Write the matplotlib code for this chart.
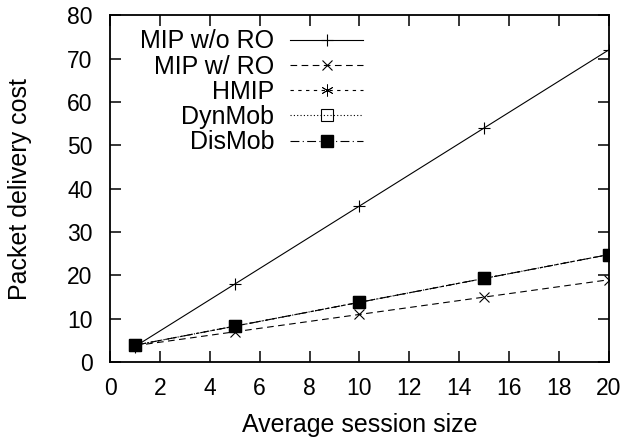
import matplotlib
matplotlib.use("Agg")
import matplotlib.pyplot as plt

plt.rcParams['font.family'] = ['Liberation Sans', 'DejaVu Sans']

x = [1, 5, 10, 15, 20]
mip_no_ro = [3.6, 18, 36, 54, 72]
mip_ro = [3.8, 7, 11, 15, 19]
hmip = [3.9, 8.3, 13.8, 19.3, 24.8]
dynmob = [3.9, 8.3, 13.8, 19.3, 24.8]
dismob = [3.9, 8.3, 13.8, 19.3, 24.8]

fig = plt.figure(figsize=(6.29, 4.46), dpi=100)
ax = fig.add_axes([0.175, 0.188, 0.793, 0.778])

lw = 0.8
ms = 8.6
ax.plot(x, mip_no_ro, color='black', lw=lw, ls='-', marker='+', ms=ms, mew=0.8, label='MIP w/o RO')
ax.plot(x, mip_ro, color='black', lw=lw, ls=(0, (6, 4)), marker='x', ms=ms * 0.9, mew=0.8, label='MIP w/ RO')
ax.plot(x, hmip, color='black', lw=lw, ls=(0, (3, 4)), marker=(6, 2, 0), ms=ms, mew=0.6, label='HMIP')
ax.plot(x, dynmob, color='black', lw=lw, ls=(0, (1, 2)), marker='s', ms=ms, mfc='none', mew=0.8, label='DynMob')
ax.plot(x, dismob, color='black', lw=lw, ls=(0, (8, 3, 1, 3)), marker='s', ms=ms, mfc='black', label='DisMob')

ax.set_xlim(0, 20)
ax.set_ylim(0, 80)
ax.set_xticks(range(0, 21, 2))
ax.set_yticks(range(0, 81, 10))
ax.tick_params(direction='in', top=True, right=True, length=8, width=1.1, labelsize=16.5)
ax.tick_params(axis='y', pad=12.5)
ax.tick_params(axis='x', pad=11)
for s in ax.spines.values():
    s.set_linewidth(1.3)

ax.set_xlabel('Average session size', fontsize=18, va='center')
ax.set_ylabel('Packet delivery cost', fontsize=18, va='center')
ax.xaxis.set_label_coords(0.5, -0.182)
ax.yaxis.set_label_coords(-0.18, 0.5)

ax.legend(loc='upper right', bbox_to_anchor=(0.515, 0.97), frameon=False, markerfirst=False,
          fontsize=18, handlelength=2.92, labelspacing=0.05, handletextpad=0.64,
          borderpad=0.15, borderaxespad=0)

fig.savefig('out.png', dpi=100)
